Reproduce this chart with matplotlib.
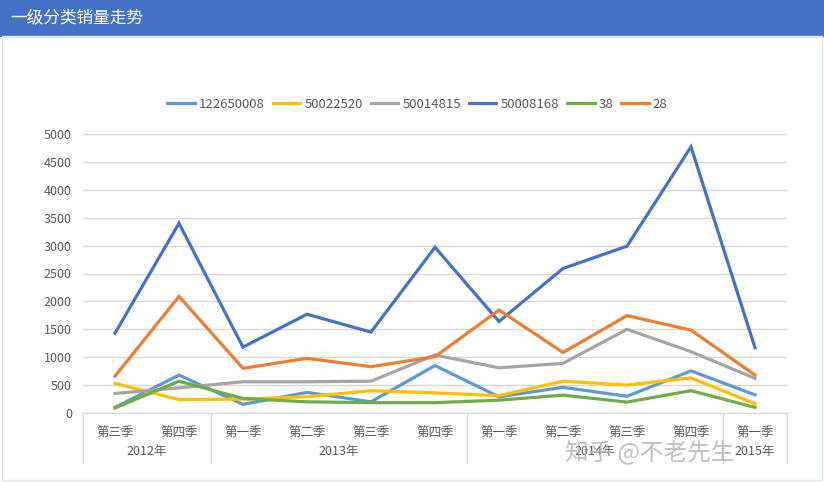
import matplotlib
matplotlib.use("Agg")
import matplotlib.pyplot as plt
from matplotlib.patches import Rectangle
from matplotlib.transforms import blended_transform_factory

plt.rcParams['font.family'] = ['Noto Sans CJK SC', 'DejaVu Sans']

# data
quarters = ['第三季', '第四季', '第一季', '第二季', '第三季', '第四季',
            '第一季', '第二季', '第三季', '第四季', '第一季']
years = ['2012年', '2013年', '2014年', '2015年']
year_spans = [(0, 2), (2, 6), (6, 10), (10, 11)]

series_names = ['122650008', '50022520', '50014815', '50008168', '38', '28']
s_122650008 = [100, 680, 155, 370, 200, 850, 290, 460, 300, 755, 325]
s_50022520 = [530, 240, 250, 290, 400, 360, 310, 570, 500, 630, 165]
s_50014815 = [350, 450, 560, 560, 570, 1040, 810, 890, 1500, 1100, 620]
s_50008168 = [1430, 3400, 1180, 1770, 1450, 2970, 1640, 2590, 2990, 4770, 1170]
s_38 = [90, 570, 260, 200, 185, 185, 230, 320, 195, 400, 100]
s_28 = [660, 2090, 800, 980, 830, 1010, 1845, 1085, 1745, 1485, 680]
series = [s_122650008, s_50022520, s_50014815, s_50008168, s_38, s_28]
colors = ['#5B9BD5', '#FFC000', '#A5A5A5', '#4472C4', '#70AD47', '#ED7D31']

W, H = 824, 482
fig = plt.figure(figsize=(W / 100, H / 100), dpi=100)

# title bar
fig.patches.append(Rectangle((0, 1 - 36 / H), 1, 36 / H, transform=fig.transFigure,
                             color='#4472C4', zorder=0))
fig.text(10 / W, 1 - 18 / H, '一级分类销量走势', color='white', fontsize=12,
         va='center', ha='left')
# faint frame
fig.patches.append(Rectangle((2 / W, 2 / H), 1 - 4 / W, 1 - 38 / H, transform=fig.transFigure,
                             fill=False, edgecolor='#E3E6E6', lw=1, zorder=0))

ax = fig.add_axes([83 / W, 1 - 413 / H, 704 / W, 279 / H])
x = list(range(len(quarters)))
for name, vals, c in zip(series_names, series, colors):
    ax.plot(x, vals, color=c, lw=2.3, label=name, solid_joinstyle='miter')

ax.set_xlim(-0.5, len(quarters) - 0.5)
ax.set_ylim(0, 5000)
ax.set_yticks(range(0, 5001, 500))
ax.yaxis.grid(True, color='#D9D9D9', lw=1)
ax.set_axisbelow(True)
for sp in ['top', 'right', 'left']:
    ax.spines[sp].set_visible(False)
ax.spines['bottom'].set_color('#D9D9D9')
ax.tick_params(axis='y', length=0, labelsize=9, labelcolor='#595959', pad=8)
ax.set_xticks(x)
ax.set_xticklabels(quarters)
ax.tick_params(axis='x', length=0, labelsize=9, labelcolor='#595959', pad=9)

trans = blended_transform_factory(ax.transData, ax.transAxes)
bounds = sorted(set([a - 0.5 for a, b in year_spans] + [b - 0.5 for a, b in year_spans]))
for b in bounds:
    ax.plot([b, b], [0, -50 / 279], color='#D9D9D9', lw=1, transform=trans, clip_on=False)
for yr, (a, b) in zip(years, year_spans):
    ax.text((a + b - 1) / 2, -38 / 279, yr, transform=trans, ha='center', va='center',
            fontsize=9, color='#595959')

ax.legend(loc='center', bbox_to_anchor=(0.475, 1 + 30 / 279), ncol=6, frameon=False,
          fontsize=9.5, handlelength=2.1, columnspacing=0.6, handletextpad=0.3,
          labelcolor='#595959')

# watermark
fig.text(565 / W, 1 - 452 / H, '知乎 @不老先生', fontsize=17, color='#B0B0B0',
         alpha=0.8, va='center', ha='left')

fig.savefig('out.png', dpi=100)
